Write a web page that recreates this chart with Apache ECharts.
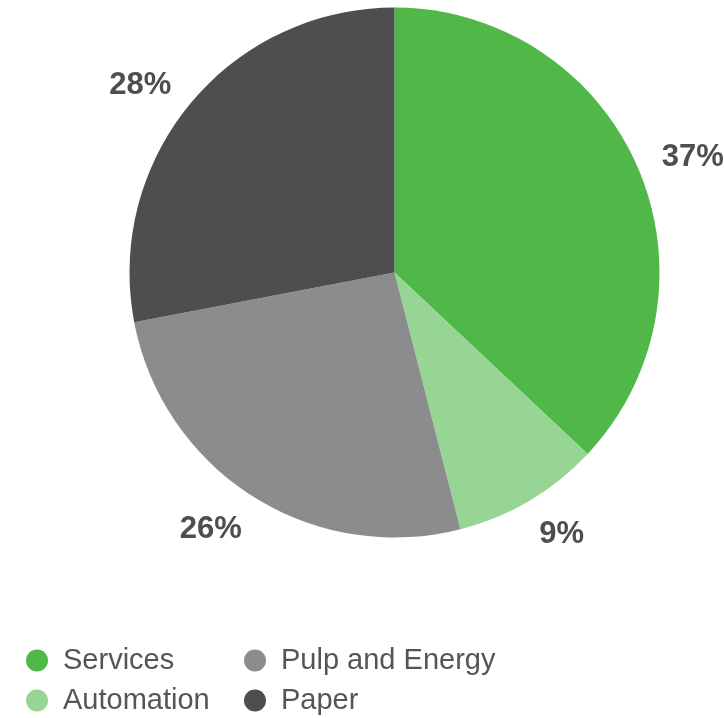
<!DOCTYPE html>
<html>
<head>
<meta charset="utf-8">
<script src="https://cdn.jsdelivr.net/npm/echarts@6/dist/echarts.min.js"></script>
<style>
  html, body { margin: 0; padding: 0; background: #fff; }
  #chart { width: 724px; height: 718px; }
</style>
</head>
<body>
<div id="chart"></div>
<script>
const categories = ["Services", "Automation", "Pulp and Energy", "Paper"];
const shares = [37, 9, 26, 28];
const colors = ["#50b848", "#97d594", "#8b8c8e", "#4d4e50"];

const chart = echarts.init(document.getElementById("chart"));

const pieData = categories.map((name, i) => ({
  name,
  value: shares[i],
  itemStyle: { color: colors[i] },
}));

// two legend columns so the icons line up like the original
const legendBase = {
  orient: "vertical",
  top: 646,
  height: 100,
  padding: 0,
  icon: "circle",
  itemWidth: 22,
  itemHeight: 22,
  itemGap: 11,
  textStyle: {
    fontFamily: "Liberation Sans",
    fontSize: 29,
    color: "#555",
    padding: [0, 0, 0, 10],
  },
};

const option = {
  animation: false,
  legend: [
    { ...legendBase, left: 26, data: [categories[0], categories[1]] },
    { ...legendBase, left: 244, data: [categories[2], categories[3]] },
  ],
  series: [
    {
      type: "pie",
      center: [394.5, 272.5],
      radius: 265,
      startAngle: 90,
      clockwise: true,
      silent: true,
      label: {
        show: true,
        position: "outside",
        formatter: "{d}%",
        fontFamily: "Liberation Sans",
        fontSize: 31,
        fontWeight: "bold",
        color: "#4d4e50",
        overflow: "none",
      },
      labelLine: { show: false, length: 35, length2: -13 },
      labelLayout: { dy: 4 },
      data: pieData,
    },
  ],
};

chart.setOption(option);
</script>
</body>
</html>
